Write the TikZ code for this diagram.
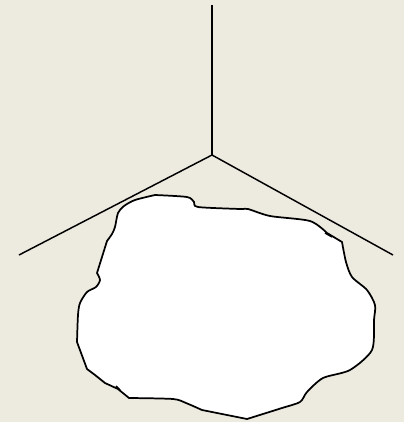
\documentclass[tikz,border=0pt]{standalone}
\usepackage{tikz}
\definecolor{bgpaper}{RGB}{237,234,224}

\begin{document}
\begin{tikzpicture}[x=0.75pt,y=0.75pt,yscale=-1,xscale=1]
%set diagram left start at 0, and has height of 422
\fill [bgpaper] (0,0) rectangle (404,422) ;
\useasboundingbox (0,0) rectangle (404,422) ;

\coordinate (ctr) at (212,155) ;
\coordinate (top) at (212,5) ;
\coordinate (lft) at (19,255) ;
\coordinate (rgt) at (393,255) ;

%Straight Lines
\draw [line width=1.1]  (ctr) -- (top) ;
%Straight Lines
\draw [line width=1.1]  (ctr) -- (lft) ;
%Straight Lines
\draw [line width=1.1]  (ctr) -- (rgt) ;

%Shape: Blob
\draw [fill=white, line width=1.3, line join=round] plot [smooth, tension=0.45] coordinates {
 (155,195) (187,197) (194,202) (198,207) (240,209) (248,209) (270,216) (310,221) (327,233)}
 -- (342,242) -- plot [smooth, tension=0.45] coordinates {(342,242) (346,262) (352,277) (367,290) (375,305) (374,320) (372,350) (350,370) (323,378) (307,392) (300,402) (282,408) (247,419)}
 -- (202,410) -- plot [smooth, tension=0.45] coordinates {(202,410) (186,403) (173,399) (129,398)}
 -- (118,389) -- (105,383) -- (95,375) -- (87,369) -- (77,342)
 -- plot [smooth, tension=0.45] coordinates {(77,342) (78,315) (80,303) (87,292) (96,287) (100,280) (97,273)}
 -- (107,241) -- plot [smooth, tension=0.45] coordinates {(107,241) (112,234) (115,227) (118,213) (124,206) (135,200) (155,195)} -- cycle ;
%Small ticks
\draw [line width=1.1]  (325,233) -- (332,237) ;
\draw [line width=1.1]  (116,386) -- (120,390) ;

\end{tikzpicture}
\end{document}
